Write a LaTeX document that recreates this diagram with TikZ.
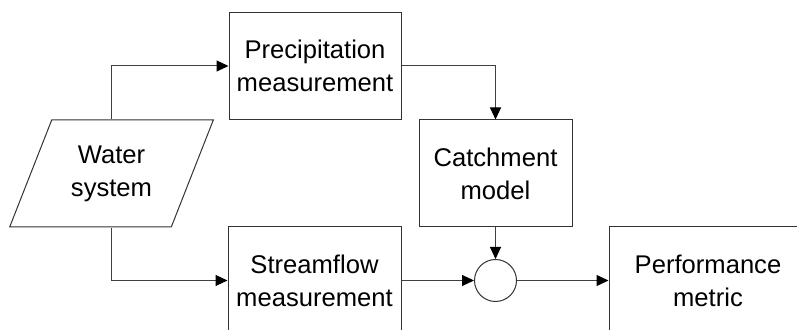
\documentclass[tikz,border=0pt]{standalone}
\usepackage{fontspec}
\setmainfont{Liberation Sans}
\usetikzlibrary{positioning, shapes, arrows.meta, calc}

\begin{document}
\begin{tikzpicture}[x=0.5pt, y=-0.5pt,
    block/.style={draw=black!80, line width=0.5pt, align=center, inner sep=0pt,
      minimum height=53.5pt, font=\fontsize{12.8}{16.5}\selectfont},
    link/.style={draw=black!75, line width=0.5pt,
      -{Triangle[length=6pt, width=5.5pt, black]}}]
  \useasboundingbox (0,0) rectangle (797,330);
  \clip (0,0) rectangle (797,330);

  \node[block, trapezium, trapezium left angle=63, trapezium right angle=117,
    trapezium stretches=true, minimum width=102.5pt] (water) at (111.5,173.5) {Water\\system};
  \node[block, minimum width=86pt] (precip) at (315,66) {Precipitation\\measurement};
  \node[block, minimum width=76.5pt] (catch) at (495.5,173.5) {Catchment\\model};
  \node[block, minimum width=86.5pt] (stream) at (314.5,280.5) {Streamflow\\measurement};
  \node[block, minimum width=99pt] (perf) at (708,280.5) {Performance\\metric};
  \node[draw=black!80, circle, line width=0.5pt, minimum size=21pt, inner sep=0pt] (sum) at (495.5,280.5) {};

  \draw[link] (water.north) |- (precip.west);
  \draw[link] (water.south) |- (stream.west);
  \draw[link] (precip.east) -| (catch.north);
  \draw[link] (catch.south) -- (sum.north);
  \draw[link] (stream.east) -- (sum.west);
  \draw[link] (sum.east) -- (perf.west);
\end{tikzpicture}
\end{document}
